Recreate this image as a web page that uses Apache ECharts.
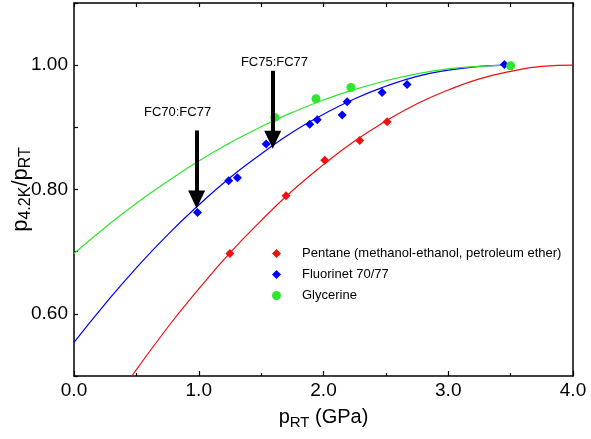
<!DOCTYPE html>
<html><head><meta charset="utf-8">
<script src="https://cdn.jsdelivr.net/npm/echarts@6/dist/echarts.min.js"></script>
<style>html,body{margin:0;padding:0;background:#fff}#c{width:591px;height:439px}</style>
</head><body><div id="c"></div>
<script>
// ---- measured data ----
const pentaneX = [1.25, 1.70, 2.01, 2.29, 2.51];
const pentaneY = [0.697, 0.790, 0.847, 0.879, 0.909];
const fluorX = [0.99, 1.24, 1.31, 1.54, 1.89, 1.95, 2.15, 2.19, 2.47, 2.67, 3.45];
const fluorY = [0.763, 0.814, 0.819, 0.873, 0.905, 0.912, 0.920, 0.941, 0.956, 0.969, 1.001];
const glyX = [1.61, 1.94, 2.22, 3.50];
const glyY = [0.916, 0.946, 0.964, 0.999];

// fitted curves
const pentaneFitX = [0.40, 0.75, 1.00, 1.25, 1.50, 1.75, 2.00, 2.25, 2.50, 2.75, 3.00, 3.25, 3.50, 3.75, 4.00];
const pentaneFitY = [0.482, 0.578, 0.640, 0.698, 0.750, 0.798, 0.840, 0.878, 0.910, 0.938, 0.960, 0.978, 0.990, 0.998, 1.000];
const fluorFitX = [0.00, 0.25, 0.50, 0.75, 1.00, 1.25, 1.50, 1.75, 2.00, 2.25, 2.50, 2.75, 3.00, 3.25, 3.45];
const fluorFitY = [0.554, 0.616, 0.674, 0.727, 0.775, 0.819, 0.857, 0.892, 0.921, 0.946, 0.966, 0.982, 0.992, 0.998, 1.000];
const glyFitX = [0.00, 0.25, 0.50, 0.75, 1.00, 1.25, 1.50, 1.75, 2.00, 2.25, 2.50, 2.75, 3.00, 3.25, 3.50];
const glyFitY = [0.697, 0.739, 0.778, 0.813, 0.846, 0.875, 0.901, 0.924, 0.944, 0.961, 0.975, 0.986, 0.994, 0.998, 1.000];

const seriesNames = ['Pentane (methanol-ethanol, petroleum ether)', 'Fluorinet 70/77', 'Glycerine'];

// annotations (arrow shaft from top to the centre of the arrow head)
const annotText = ['FC70:FC77', 'FC75:FC77'];
const annotTextX = [0.83, 1.607];
const annotTextY = [0.924, 1.004];
const arrowX = [0.983, 1.593];
const arrowTopY = [0.895, 0.991];
const arrowEndY = [0.784, 0.880];

const xTicks = [0, 1, 2, 3, 4];
const yLabelled = [0.6, 0.8, 1.0];

const RED = '#ee1111', BLUE = '#0000ff', GREEN = '#2ee62e';
const FONT = 'Liberation Sans, Arial, Helvetica, sans-serif';

const zip = (a, b) => a.map((v, i) => [v, b[i]]);

const chart = echarts.init(document.getElementById('c'), null, {renderer: 'canvas'});

function lineSeries(name, xs, ys, color) {
  return {
    name: name, type: 'line', data: zip(xs, ys), smooth: true, showSymbol: false,
    symbol: 'none', clip: true, silent: true,
    lineStyle: {color: color, width: 1.2}, itemStyle: {color: color}, z: 2
  };
}
function scatterSeries(name, xs, ys, color, symbol, size) {
  return {
    name: name, type: 'scatter', data: zip(xs, ys), symbol: symbol, symbolSize: size,
    itemStyle: {color: color, opacity: 1}, z: 3, silent: true
  };
}

const option = {
  animation: false,
  backgroundColor: '#fff',
  textStyle: {fontFamily: FONT},
  grid: {left: 74, top: 3, right: 18, bottom: 63, containLabel: false, outerBoundsMode: 'none'},
  legend: {
    data: seriesNames, orient: 'vertical', left: 267, top: 242,
    itemWidth: 9, itemHeight: 9, itemGap: 8,
    textStyle: {fontSize: 13, color: '#000', fontFamily: FONT, padding: [0, 0, 0, 16]},
    selectedMode: false
  },
  xAxis: [{
    type: 'value', min: 0, max: 4, interval: 1, position: 'bottom',
    axisLine: {show: true, onZero: false, lineStyle: {color: '#000', width: 1.5}},
    axisTick: {show: true, inside: true, length: 5, lineStyle: {color: '#000', width: 1.2}},
    minorTick: {show: true, splitNumber: 2, length: 3, lineStyle: {color: '#000', width: 1.2}},
    splitLine: {show: false},
    axisLabel: {fontSize: 19, color: '#000', margin: 5, fontFamily: FONT,
      formatter: v => xTicks.some(t => Math.abs(t - v) < 1e-6) ? v.toFixed(1) : ''},
    name: '{p|p}{s|RT}{p| (GPa)}', nameLocation: 'middle', nameGap: 29, nameMoveOverlap: false,
    nameTextStyle: {color: '#000', fontFamily: FONT, rich: {
      p: {fontSize: 20, color: '#000', fontFamily: FONT},
      s: {fontSize: 15, color: '#000', fontFamily: FONT, padding: [10, 0, 0, 0]}
    }}
  }, {
    type: 'value', min: 0, max: 4, interval: 0.5, position: 'top',
    axisLine: {show: true, onZero: false, lineStyle: {color: '#000', width: 1.5}},
    axisTick: {show: true, inside: true, length: 4, lineStyle: {color: '#000', width: 1.2}},
    axisLabel: {show: false}, splitLine: {show: false}
  }],
  yAxis: [{
    type: 'value', min: 0.5, max: 1.1, interval: 0.1, position: 'left',
    axisLine: {show: true, onZero: false, lineStyle: {color: '#000', width: 1.5}},
    axisTick: {show: true, inside: true, length: 4, lineStyle: {color: '#000', width: 1.2}},
    splitLine: {show: false},
    axisLabel: {fontSize: 19, color: '#000', margin: 6, fontFamily: FONT,
      formatter: v => yLabelled.some(t => Math.abs(t - v) < 1e-6) ? v.toFixed(2) : ''},
    name: '{p|p}{s|4.2K}{p|/p}{s|RT}', nameLocation: 'middle', nameGap: 40, nameRotate: 90,
    nameMoveOverlap: false,
    nameTextStyle: {color: '#000', fontFamily: FONT, rich: {
      p: {fontSize: 22, color: '#000', fontFamily: FONT},
      s: {fontSize: 16, color: '#000', fontFamily: FONT, padding: [10, 0, 0, 0]}
    }}
  }, {
    type: 'value', min: 0.5, max: 1.1, interval: 0.1, position: 'right',
    axisLine: {show: true, onZero: false, lineStyle: {color: '#000', width: 1.5}},
    axisTick: {show: false}, axisLabel: {show: false}, splitLine: {show: false}
  }],
  series: [
    lineSeries('fitP', pentaneFitX, pentaneFitY, RED),
    lineSeries('fitF', fluorFitX, fluorFitY, BLUE),
    lineSeries('fitG', glyFitX, glyFitY, GREEN),
    scatterSeries(seriesNames[0], pentaneX, pentaneY, RED, 'diamond', 9),
    scatterSeries(seriesNames[1], fluorX, fluorY, BLUE, 'diamond', 9),
    scatterSeries(seriesNames[2], glyX, glyY, GREEN, 'circle', 9),
    {
      name: 'annot', type: 'scatter', silent: true, z: 5,
      data: annotText.map((t, i) => ({name: t, value: [annotTextX[i], annotTextY[i]]})),
      symbolSize: 1, itemStyle: {opacity: 0},
      label: {show: true, position: 'inside', formatter: p => p.name, color: '#000',
        fontSize: 13, fontFamily: FONT, opacity: 1},
      markLine: {
        silent: true, animation: false, z: 6,
        symbol: ['none', 'triangle'], symbolSize: [17, 18],
        lineStyle: {color: '#000', width: 4, type: 'solid'},
        itemStyle: {color: '#000'},
        label: {show: false},
        data: arrowX.map((x, i) => [{coord: [x, arrowTopY[i]]}, {coord: [x, arrowEndY[i]]}])
      }
    }
  ]
};
chart.setOption(option);
</script>
</body></html>
